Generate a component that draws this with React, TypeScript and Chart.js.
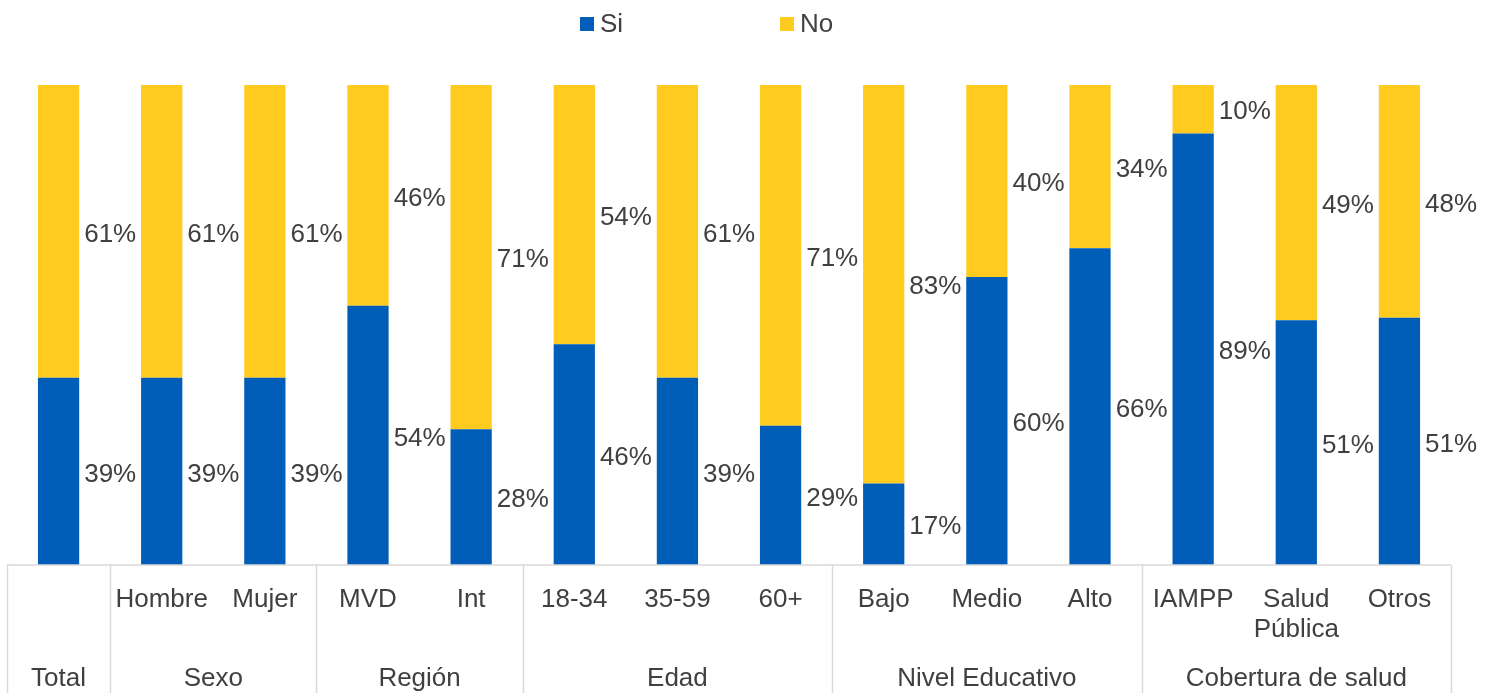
import React, { useEffect, useRef } from "react";
import { Chart, registerables } from "chart.js";

Chart.register(...registerables);

// Categories shown along the x axis
const categories = [
  "Total", "Hombre", "Mujer", "MVD", "Int", "18-34", "35-59", "60+",
  "Bajo", "Medio", "Alto", "IAMPP", "Salud Pública", "Otros",
];

// First row of axis labels (Total is only named in the group row)
const tickLabels: (string | string[])[] = [
  "", "Hombre", "Mujer", "MVD", "Int", "18-34", "35-59", "60+",
  "Bajo", "Medio", "Alto", "IAMPP", ["Salud", "Pública"], "Otros",
];

// Second row of axis labels and how many categories each spans
const groupNames = ["Total", "Sexo", "Región", "Edad", "Nivel Educativo", "Cobertura de salud"];
const groupSizes = [1, 2, 2, 3, 3, 3];

// Percentages per category
const siValues = [39, 39, 39, 54, 28, 46, 39, 29, 17, 60, 66, 89, 51, 51];
const noValues = [61, 61, 61, 46, 71, 54, 61, 71, 83, 40, 34, 10, 49, 48];

const BLUE = "#005EB8";
const YELLOW = "#FFCB1F";
const TEXT = "#404040";
const LINE = "#D9D9D9";
const FONT_FAMILY = "'Liberation Sans', Arial, sans-serif";
const FONT_SIZE = 26;

// Each bar is stacked to 100% of its own total
const share = (a: number[], b: number[]) => a.map((v, i) => (v / (v + b[i])) * 100);

const valueLabels = {
  id: "valueLabels",
  afterDatasetsDraw(chart: any) {
    const ctx = chart.ctx;
    ctx.save();
    ctx.font = `${FONT_SIZE}px ${FONT_FAMILY}`;
    ctx.fillStyle = TEXT;
    ctx.textAlign = "left";
    ctx.textBaseline = "middle";
    chart.data.datasets.forEach((ds: any, di: number) => {
      const meta = chart.getDatasetMeta(di);
      meta.data.forEach((el: any, i: number) => {
        const raw = ds.rawValues[i];
        const x = el.x + el.width / 2 + 5;
        const y = (el.y + el.base) / 2 + 3;
        ctx.fillText(`${raw}%`, x, y);
      });
    });
    ctx.restore();
  },
};

const groupAxis = {
  id: "groupAxis",
  afterDraw(chart: any) {
    const ctx = chart.ctx;
    const xs = chart.scales.x;
    const area = chart.chartArea;
    const top = xs.top;
    const bottom = chart.height;
    const edge = (i: number) => {
      if (i <= 0) return area.left;
      if (i >= categories.length) return area.right;
      return (xs.getPixelForValue(i - 1) + xs.getPixelForValue(i)) / 2;
    };
    ctx.save();
    ctx.strokeStyle = LINE;
    ctx.lineWidth = 1.5;
    ctx.beginPath();
    ctx.moveTo(area.left, top);
    ctx.lineTo(area.right, top);
    let start = 0;
    const bounds: number[] = [0];
    groupSizes.forEach((n) => {
      start += n;
      bounds.push(start);
    });
    bounds.forEach((b) => {
      const x = Math.round(edge(b)) + 0.5;
      ctx.moveTo(x, top);
      ctx.lineTo(x, bottom);
    });
    ctx.stroke();

    ctx.font = `${FONT_SIZE}px ${FONT_FAMILY}`;
    ctx.fillStyle = TEXT;
    ctx.textAlign = "center";
    ctx.textBaseline = "middle";
    groupNames.forEach((name, g) => {
      const cx = (edge(bounds[g]) + edge(bounds[g + 1])) / 2;
      ctx.fillText(name, cx, bottom - 14);
    });
    ctx.restore();
  },
};

const topLegend = {
  id: "topLegend",
  afterDraw(chart: any) {
    const ctx = chart.ctx;
    ctx.save();
    ctx.font = `${FONT_SIZE}px ${FONT_FAMILY}`;
    ctx.textAlign = "left";
    ctx.textBaseline = "middle";
    const y = 24;
    let x = chart.chartArea.left + 573;
    chart.data.datasets.forEach((ds: any) => {
      ctx.fillStyle = ds.backgroundColor;
      ctx.fillRect(x, y - 7, 14, 14);
      ctx.fillStyle = TEXT;
      ctx.fillText(ds.label, x + 20, y + 1);
      x += 200;
    });
    ctx.restore();
  },
};

export default function App() {
  const canvasRef = useRef<HTMLCanvasElement | null>(null);

  useEffect(() => {
    document.body.style.margin = "0";
    const canvas = canvasRef.current;
    if (!canvas) return;
    const chart = new Chart(canvas, {
      type: "bar",
      data: {
        labels: categories,
        datasets: [
          {
            label: "Si",
            data: share(siValues, noValues),
            rawValues: siValues,
            backgroundColor: BLUE,
            barPercentage: 0.5,
            categoryPercentage: 0.8,
          } as any,
          {
            label: "No",
            data: share(noValues, siValues),
            rawValues: noValues,
            backgroundColor: YELLOW,
            barPercentage: 0.5,
            categoryPercentage: 0.8,
          } as any,
        ],
      },
      options: {
        responsive: false,
        animation: false,
        layout: { padding: { top: 85, left: 7, right: 38, bottom: 0 } },
        plugins: {
          legend: { display: false },
          tooltip: { enabled: false },
        },
        scales: {
          x: {
            stacked: true,
            grid: { display: false, drawTicks: false },
            border: { display: false },
            ticks: {
              autoSkip: false,
              maxRotation: 0,
              padding: 20,
              color: TEXT,
              font: { family: FONT_FAMILY, size: FONT_SIZE, lineHeight: 1.15 },
              callback: (_v: any, i: number) => tickLabels[i],
            },
            afterFit: (scale: any) => {
              scale.height = 128;
            },
          },
          y: {
            stacked: true,
            display: false,
            min: 0,
            max: 100,
          },
        },
      },
      plugins: [valueLabels, groupAxis, topLegend],
    });
    return () => chart.destroy();
  }, []);

  return <canvas ref={canvasRef} width={1489} height={693} style={{ display: "block" }} />;
}
